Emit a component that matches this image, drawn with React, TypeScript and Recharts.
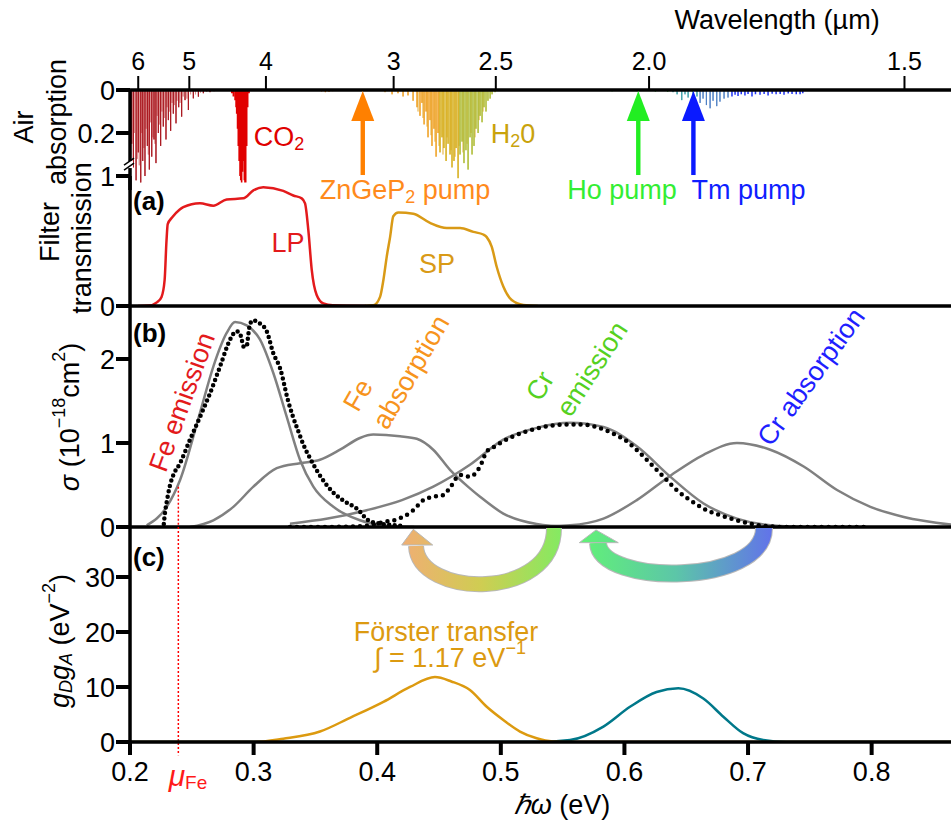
import React from 'react';
import { ComposedChart, Line, XAxis, YAxis, ReferenceDot, ReferenceLine } from 'recharts';

const W = 951;
const H = 823;
const FONT = '"Liberation Sans", Arial, Helvetica, sans-serif';
const E_MIN = 0.2;
const E_MAX = 0.8642;
const HC = 1.23984; // eV * um
const THIN = 0.01; // axis box size (must be > 0 for the axis to render)

// ---------- tick labels ----------
const WL_MAJOR = [6, 5, 4, 3, 2.5, 2.0, 1.5];
const WL_MAJOR_LABELS = ['6', '5', '4', '3', '2.5', '2.0', '1.5'];
const WL_MINOR = [4.5, 3.5];
const WL_ALL = [6, 5, 4.5, 4, 3.5, 3, 2.5, 2.0, 1.5];
const EV_TICKS = [0.2, 0.3, 0.4, 0.5, 0.6, 0.7, 0.8];
const EV_INNER_TICKS = [0.3, 0.4, 0.5, 0.6, 0.7, 0.8];
const AIR_TICKS = [0, 0.2];
const AIR_MINOR = [0.1, 0.3];
const FILT_TICKS = [0, 1];
const FILT_MINOR = [0.2, 0.4, 0.6, 0.8];
const SIG_TICKS = [0, 1, 2];
const SIG_MINOR = [0.5, 1.5];
const G_TICKS = [0, 10, 20, 30];

// photon-energy span shown on every panel
const SPAN = [{ x: 0.2, y: 0 }, { x: 0.8642, y: 0 }];

// ---------- air absorption lines [photon energy (eV), absorption] ----------
const AIR_MIR_DARK = [[0.2014,0.25],[0.2027,0.36],[0.2049,0.42],[0.2067,0.29],[0.2087,0.43],[0.2103,0.33],[0.2121,0.40],[0.2140,0.26],[0.2156,0.37],[0.2176,0.31],[0.2194,0.23],[0.2210,0.34],[0.2229,0.20],[0.2248,0.26],[0.2269,0.17],[0.2291,0.23],[0.2310,0.14],[0.2329,0.19],[0.2350,0.11],[0.2372,0.155],[0.2394,0.08],[0.2418,0.124],[0.2445,0.047],[0.2472,0.093],[0.2512,0.039],[0.2553,0.031],[0.2593,0.015],[0.2647,0.01]];
const AIR_MIR_LIGHT = [[0.2005,0.30],[0.2035,0.20],[0.2058,0.32],[0.2075,0.35],[0.2095,0.20],[0.2112,0.27],[0.2130,0.18],[0.2148,0.30],[0.2166,0.15],[0.2185,0.22],[0.2202,0.25],[0.2220,0.12],[0.2238,0.16],[0.2258,0.10],[0.2280,0.13],[0.2300,0.08],[0.2320,0.10],[0.2340,0.06],[0.2360,0.07],[0.2380,0.05],[0.2405,0.06],[0.2430,0.03],[0.2460,0.04],[0.2490,0.02],[0.2530,0.02],[0.2570,0.012],[0.2620,0.008],[0.2680,0.006],[0.2750,0.004]];
const AIR_CO2 = [[0.2823,0.015],[0.2836,0.03],[0.2850,0.047],[0.2858,0.08],[0.2863,0.11],[0.2870,0.18],[0.2876,0.26],[0.2883,0.33],[0.2890,0.40],[0.2896,0.42],[0.2903,0.43],[0.2910,0.38],[0.2917,0.33],[0.2925,0.42],[0.2930,0.43],[0.2936,0.43],[0.2944,0.26],[0.2952,0.08],[0.2963,0.015]];
const AIR_ZGP = [[0.355,0.006],[0.358,0.01],[0.361,0.008],[0.364,0.005]];
const AIR_H2O_ORANGE = [[0.4063,0.01],[0.4120,0.02],[0.4168,0.015],[0.4209,0.03],[0.4249,0.025],[0.4290,0.05],[0.4322,0.08],[0.4346,0.12],[0.4362,0.06],[0.4379,0.16],[0.4395,0.10],[0.4411,0.22],[0.4427,0.14],[0.4443,0.26],[0.4459,0.18],[0.4476,0.31],[0.4492,0.20]];
const AIR_H2O_GOLD = [[0.4508,0.29],[0.4524,0.22],[0.4540,0.27],[0.4557,0.33],[0.4573,0.25],[0.4589,0.30],[0.4605,0.36],[0.4621,0.33],[0.4638,0.27],[0.4654,0.41]];
const AIR_H2O_OLIVE = [[0.4670,0.30],[0.4686,0.24],[0.4702,0.34],[0.4718,0.28],[0.4735,0.37],[0.4751,0.22],[0.4767,0.30],[0.4783,0.26],[0.4799,0.18],[0.4816,0.20],[0.4832,0.12],[0.4848,0.15],[0.4864,0.08],[0.4880,0.10],[0.4896,0.05],[0.4913,0.04],[0.4929,0.02],[0.4953,0.01]];
const AIR_H2O_LIGHT = [[0.4330,0.10],[0.4370,0.13],[0.4403,0.17],[0.4435,0.21],[0.4467,0.24],[0.4500,0.26],[0.4532,0.30],[0.4565,0.22],[0.4597,0.28],[0.4630,0.31],[0.4662,0.26],[0.4694,0.29],[0.4727,0.25],[0.4759,0.20],[0.4791,0.22],[0.4824,0.14],[0.4856,0.10]];
const AIR_GREEN = [[0.5150,0.004],[0.5400,0.005],[0.5650,0.004],[0.5900,0.006],[0.6100,0.005],[0.6250,0.007],[0.6350,0.008]];
const AIR_TEAL = [[0.6393,0.01],[0.6426,0.02],[0.6464,0.047],[0.6490,0.02],[0.6515,0.035],[0.6555,0.05],[0.6587,0.03]];
const AIR_STEEL = [[0.6612,0.06],[0.6636,0.04],[0.6663,0.07],[0.6693,0.085],[0.6717,0.05],[0.6747,0.075],[0.6773,0.054],[0.6806,0.04],[0.6838,0.035]];
const AIR_BLUE = [[0.6870,0.03],[0.6895,0.022],[0.6919,0.028],[0.6945,0.02],[0.6975,0.025],[0.7000,0.018],[0.7032,0.03],[0.7060,0.02],[0.7097,0.022],[0.7130,0.018],[0.7162,0.025],[0.7195,0.017],[0.7227,0.02],[0.7260,0.018],[0.7291,0.022],[0.7325,0.016],[0.7356,0.018],[0.7390,0.02],[0.7421,0.02],[0.7443,0.015]];

// ---------- (a) filter transmission ----------
const LP_E = [0.2065,0.215,0.222,0.2255,0.228,0.2295,0.2305,0.234,0.24,0.2431,0.2566,0.2674,0.2782,0.2917,0.2998,0.3078,0.324,0.3321,0.3389,0.3416,0.3443,0.347,0.351,0.3564,0.364,0.391];
const LP_T = [0,0.003,0.03,0.07,0.2,0.5,0.63,0.68,0.74,0.76,0.79,0.772,0.82,0.828,0.89,0.913,0.885,0.85,0.828,0.79,0.58,0.28,0.085,0.02,0.005,0];
const SP_E = [0.39,0.3969,0.4023,0.405,0.4077,0.4104,0.413,0.4171,0.4292,0.4427,0.4562,0.467,0.4778,0.4858,0.4886,0.4926,0.4967,0.502,0.5088,0.5182,0.53];
const SP_T = [0,0.005,0.07,0.2,0.38,0.53,0.69,0.72,0.71,0.64,0.6,0.6,0.57,0.55,0.53,0.456,0.3,0.15,0.046,0.008,0];

// ---------- (b) cross sections (1e-18 cm^2) ----------
const FE_EMI_FIT_E = [0.2135,0.2297,0.2405,0.2566,0.2674,0.2782,0.285,0.2944,0.3052,0.316,0.3268,0.3375,0.3483,0.3645,0.386,0.4077,0.43];
const FE_EMI_FIT = [0.02,0.24,0.56,1.36,1.91,2.31,2.44,2.40,2.23,1.83,1.31,0.80,0.48,0.24,0.08,0.015,0];
const FE_ABS_FIT_E = [0.2485,0.2674,0.2836,0.2998,0.3187,0.3375,0.3537,0.3699,0.386,0.3968,0.4184,0.432,0.4453,0.4589,0.475,0.4832,0.502,0.529,0.556];
const FE_ABS_FIT = [0,0.08,0.24,0.48,0.70,0.76,0.80,0.92,1.06,1.10,1.08,1.05,0.92,0.68,0.46,0.36,0.16,0.035,0];
const CR_EMI_FIT_E = [0.3294,0.36,0.3915,0.42,0.4454,0.475,0.502,0.529,0.556,0.583,0.61,0.637,0.664,0.691,0.718,0.745];
const CR_EMI_FIT = [0.04,0.1,0.2,0.32,0.48,0.74,1.04,1.18,1.24,1.19,0.96,0.60,0.28,0.10,0.02,0];
const CR_ABS_FIT_E = [0.52,0.556,0.583,0.61,0.638,0.664,0.691,0.718,0.745,0.772,0.799,0.826,0.8642];
const CR_ABS_FIT = [0,0.02,0.1,0.32,0.62,0.86,1.0,0.92,0.72,0.44,0.24,0.12,0.03];
const FE_EMI_MEAS_E = [0.2269,0.2283,0.2297,0.2324,0.2351,0.2405,0.2485,0.2566,0.2647,0.2728,0.2809,0.2836,0.2863,0.2890,0.2904,0.2917,0.2944,0.2957,0.2971,0.2998,0.3052,0.3106,0.3159,0.3214,0.3281,0.3319,0.3359,0.3400,0.3456,0.3551,0.3645,0.3740,0.3834,0.3928,0.4023,0.4144,0.4225];
const FE_EMI_MEAS = [-0.03,0.17,0.3,0.5,0.62,0.76,1.04,1.31,1.59,1.91,2.23,2.30,2.33,2.30,2.23,2.15,2.15,2.29,2.42,2.46,2.42,2.33,2.07,1.89,1.49,1.31,1.15,0.99,0.82,0.58,0.41,0.30,0.22,0.08,0.04,0.02,0.01];
const CR_EMI_MEAS_E = [0.3294,0.3537,0.378,0.3942,0.4049,0.4158,0.4292,0.4373,0.4454,0.4535,0.4589,0.467,0.4751,0.4832,0.4886,0.4953,0.502,0.5101,0.5209,0.5344,0.5506,0.5641,0.5776,0.591,0.6019,0.6126,0.6234,0.6315,0.6423,0.6531,0.6638,0.6773,0.6909,0.7071,0.7313,0.7987];
const CR_EMI_MEAS = [0,0,0.005,0.02,0.06,0.09,0.2,0.32,0.36,0.38,0.47,0.62,0.6,0.72,0.9,0.96,1.02,1.08,1.14,1.19,1.22,1.22,1.19,1.11,1.02,0.88,0.72,0.6,0.44,0.32,0.22,0.14,0.08,0.024,0,0];

// ---------- (c) g_D g_A (eV^-2) ----------
const FORSTER_FE_E = [0.2,0.3003,0.324,0.3537,0.378,0.405,0.4265,0.4467,0.46,0.475,0.4886,0.502,0.5155,0.529,0.542,0.56,0.8642];
const FORSTER_FE = [0,0,0.6,1.9,4.4,7.3,10.0,11.8,11.0,9.45,6.4,4.0,1.9,0.67,0.1,0,0];
const FORSTER_CR_E = [0.2,0.529,0.556,0.583,0.6045,0.626,0.6436,0.6638,0.68,0.696,0.7123,0.731,0.8642];
const FORSTER_CR = [0,0,0.36,2.8,6.4,9.1,9.75,7.9,4.6,1.6,0.36,0,0];

const MU_FE = 0.2391;

// ---------- helpers ----------
const spikes = (lines: number[][]) => lines.flatMap(([x, y]) => [{ x, y: 0 }, { x, y }, { x, y: 0 }]);
const pts = (xs: number[], ys: number[]) => xs.map((x, i) => ({ x, y: ys[i] }));
const wlPos = (l: number) => HC / l;
const wlFmt = (v: number) => {
  let best = 0;
  WL_MAJOR.forEach((l, i) => {
    if (Math.abs(wlPos(l) - v) < Math.abs(wlPos(WL_MAJOR[best]) - v)) best = i;
  });
  return WL_MAJOR_LABELS[best];
};

const BLACK = '#000';
const RED = '#e31a1c';
const GOLD = '#d99a16';
const GRAY = '#808080';

type NoteOpts = { fill?: string; size?: number; rotate?: number; anchor?: string; weight?: any; italic?: boolean };
const note = (content: React.ReactNode, o: NoteOpts = {}) => (p: any) => (
  <text
    transform={`translate(${p.cx},${p.cy}) rotate(${o.rotate ?? 0})`}
    x={0}
    y={0}
    textAnchor={(o.anchor ?? 'middle') as any}
    dominantBaseline="central"
    fill={o.fill ?? BLACK}
    fontSize={o.size ?? 27}
    fontWeight={o.weight ?? 'normal'}
    fontFamily={FONT}
    fontStyle={o.italic ? 'italic' : 'normal'}
  >
    {content}
  </text>
);

const pumpArrow = (color: string) => (p: any) => (
  <g transform={`translate(${p.cx},${p.cy})`}>
    <rect x={-2.2} y={26} width={4.4} height={59} fill={color} />
    <polygon points="0,1 -11.5,31 11.5,31" fill={color} />
  </g>
);

const bentArrow = (id: string, stops: [number, string][], d: string, head: string, width: number, x1: number, x2: number) => (p: any) => (
  <g transform={`translate(${p.cx},${p.cy})`}>
    <defs>
      <linearGradient id={id} gradientUnits="userSpaceOnUse" x1={x1} y1={0} x2={x2} y2={0}>
        {stops.map(([o, c], i) => <stop key={i} offset={o} stopColor={c} />)}
      </linearGradient>
    </defs>
    <path d={d} fill="none" stroke="#b8b8b8" strokeWidth={width + 2} />
    <path d={d} fill="none" stroke={`url(#${id})`} strokeWidth={width} />
    <polygon points={head} fill={`url(#${id})`} stroke="#b8b8b8" strokeWidth={1} />
  </g>
);

const breakMark = (p: any) => (
  <g transform={`translate(${p.cx},${p.cy})`}>
    <rect x={-3} y={-4} width={6} height={7} fill="#fff" />
    <line x1={-6} y1={0} x2={4} y2={-7} stroke={BLACK} strokeWidth={1.5} />
    <line x1={-6} y1={5} x2={4} y2={-2} stroke={BLACK} strokeWidth={1.5} />
  </g>
);

const AXIS_LINE = { stroke: BLACK, strokeWidth: 3.5 };
const MAJOR_TICK = { stroke: BLACK, strokeWidth: 4 };
const MINOR_TICK = { stroke: BLACK, strokeWidth: 2 };
const TICK_TEXT = { fontSize: 27, fill: BLACK, fontFamily: FONT };

const dataX = () => <XAxis xAxisId="e" dataKey="x" type="number" domain={[E_MIN, E_MAX]} hide height={THIN} />;
const wlInner = () => (
  <XAxis xAxisId="wlIn" dataKey="x" type="number" orientation="bottom" mirror domain={[E_MIN, E_MAX]} allowDataOverflow
    ticks={WL_ALL.map(wlPos)} interval={0} height={THIN} tickSize={13} tick={false}
    tickLine={MINOR_TICK} axisLine={AXIS_LINE} />
);
const evInnerTop = () => (
  <XAxis xAxisId="evTop" dataKey="x" type="number" orientation="top" mirror domain={[E_MIN, E_MAX]} allowDataOverflow
    ticks={EV_INNER_TICKS} interval={0} height={THIN} tickSize={12} tick={false}
    tickLine={MAJOR_TICK} axisLine={false} />
);
const yAxes = (id: string, domain: number[], major: number[], minor: number[], reversed = false) => {
  const out = [
    <YAxis key={id} yAxisId={id} dataKey="y" type="number" domain={domain} reversed={reversed} allowDataOverflow
      ticks={major} interval={0} width={THIN} tickSize={14} tickMargin={1} tick={TICK_TEXT}
      tickLine={MAJOR_TICK} axisLine={AXIS_LINE} />,
  ];
  if (minor.length) {
    out.push(
      <YAxis key={id + 'm'} yAxisId={id + 'm'} dataKey="y" type="number" domain={domain} reversed={reversed} allowDataOverflow
        ticks={minor} interval={0} width={THIN} tickSize={14} tick={false}
        tickLine={MINOR_TICK} axisLine={false} />
    );
  }
  return out;
};

const AIR_SERIES = [
  { d: AIR_MIR_LIGHT, c: '#dc9090', w: 1 },
  { d: AIR_MIR_DARK, c: '#a8141c', w: 1 },
  { d: AIR_CO2, c: '#e00000', w: 1.6 },
  { d: AIR_ZGP, c: '#ff8000', w: 1 },
  { d: AIR_H2O_LIGHT, c: '#ecc878', w: 1 },
  { d: AIR_H2O_ORANGE, c: '#ee9c1a', w: 1 },
  { d: AIR_H2O_GOLD, c: '#d4aa10', w: 1 },
  { d: AIR_H2O_OLIVE, c: '#aab82a', w: 1 },
  { d: AIR_GREEN, c: '#44dd44', w: 1 },
  { d: AIR_TEAL, c: '#3a9fa8', w: 1 },
  { d: AIR_STEEL, c: '#4d7fc4', w: 1 },
  { d: AIR_BLUE, c: '#1f33f2', w: 1.5 },
];

const layer: React.CSSProperties = { position: 'absolute', left: 0, top: 0 };

export default function App() {
  return (
    <div style={{ position: 'absolute', left: 0, top: 0, width: W, height: H, background: '#fff', fontFamily: FONT, overflow: 'hidden' }}>
      {/* Air absorption */}
      <div style={layer}>
        <ComposedChart width={W} height={H} data={SPAN} margin={{ top: 90, right: 0, bottom: H - 190, left: 130 }}>
          {dataX()}
          {AIR_SERIES.map((s, i) => (
            <Line key={i} xAxisId="e" yAxisId="air" data={spikes(s.d)} dataKey="y" type="linear"
              stroke={s.c} strokeWidth={s.w} dot={false} isAnimationActive={false} />
          ))}
          <XAxis xAxisId="wlTop" dataKey="x" type="number" orientation="top" domain={[E_MIN, E_MAX]} allowDataOverflow
            ticks={WL_MAJOR.map(wlPos)} interval={0} height={THIN} tickSize={14} tickMargin={6}
            tick={{ fontSize: 25, fill: BLACK, fontFamily: FONT }} tickFormatter={wlFmt}
            tickLine={MINOR_TICK} axisLine={AXIS_LINE} />
          <XAxis xAxisId="wlTopMinor" dataKey="x" type="number" orientation="top" domain={[E_MIN, E_MAX]} allowDataOverflow
            ticks={WL_MINOR.map(wlPos)} interval={0} height={THIN} tickSize={8} tick={false}
            tickLine={MINOR_TICK} axisLine={false} />
          {yAxes('air', [0, 0.465], AIR_TICKS, AIR_MINOR, true)}
          <ReferenceDot xAxisId="e" yAxisId="air" x={E_MIN} y={0.349} r={1} ifOverflow="visible" shape={breakMark} />
          <ReferenceDot xAxisId="e" yAxisId="air" x={0.3883} y={0} r={1} ifOverflow="visible" shape={pumpArrow('#ff8000')} />
          <ReferenceDot xAxisId="e" yAxisId="air" x={0.6112} y={0} r={1} ifOverflow="visible" shape={pumpArrow('#22ee22')} />
          <ReferenceDot xAxisId="e" yAxisId="air" x={0.6558} y={0} r={1} ifOverflow="visible" shape={pumpArrow('#0a1aff')} />
          <ReferenceDot xAxisId="e" yAxisId="air" x={0.3206} y={0.2186} r={1} ifOverflow="visible"
            shape={note(<>CO<tspan dy={7} fontSize={18}>2</tspan></>, { fill: '#e00000' })} />
          <ReferenceDot xAxisId="e" yAxisId="air" x={0.5099} y={0.2046} r={1} ifOverflow="visible"
            shape={note(<>H<tspan dy={7} fontSize={18}>2</tspan><tspan dy={-7}>0</tspan></>, { fill: '#c9a30c' })} />
          <ReferenceDot xAxisId="e" yAxisId="air" x={0.7235} y={-0.3255} r={1} ifOverflow="visible"
            shape={note('Wavelength (\u00b5m)')} />
          <ReferenceDot xAxisId="e" yAxisId="air" x={0.11424} y={0.172} r={1} ifOverflow="visible"
            shape={note('Air', { rotate: -90 })} />
          <ReferenceDot xAxisId="e" yAxisId="air" x={0.1409} y={0.1488} r={1} ifOverflow="visible"
            shape={note('absorption', { rotate: -90 })} />
        </ComposedChart>
      </div>

      {/* (a) filter transmission */}
      <div style={layer}>
        <ComposedChart width={W} height={H} data={SPAN} margin={{ top: 176, right: 0, bottom: H - 306, left: 130 }}>
          {dataX()}
          {wlInner()}
          {yAxes('f', [0, 1], FILT_TICKS, FILT_MINOR)}
          <Line xAxisId="e" yAxisId="f" data={pts(LP_E, LP_T)} dataKey="y" type="monotone" stroke={RED}
            strokeWidth={2.5} dot={false} isAnimationActive={false} />
          <Line xAxisId="e" yAxisId="f" data={pts(SP_E, SP_T)} dataKey="y" type="monotone" stroke={GOLD}
            strokeWidth={2.5} dot={false} isAnimationActive={false} />
          <ReferenceDot xAxisId="e" yAxisId="f" x={0.4225} y={0.892} r={1} ifOverflow="visible"
            shape={note(<>ZnGeP<tspan dy={7} fontSize={18}>2</tspan><tspan dy={-7}> pump</tspan></>, { fill: '#ff8a1c' })} />
          <ReferenceDot xAxisId="e" yAxisId="f" x={0.598} y={0.892} r={1} ifOverflow="visible"
            shape={note('Ho pump', { fill: '#33ee33' })} />
          <ReferenceDot xAxisId="e" yAxisId="f" x={0.7004} y={0.892} r={1} ifOverflow="visible"
            shape={note('Tm pump', { fill: '#0f1fff' })} />
          <ReferenceDot xAxisId="e" yAxisId="f" x={0.2024} y={0.808} r={1} ifOverflow="visible"
            shape={note('(a)', { anchor: 'start', weight: 'bold', size: 26 })} />
          <ReferenceDot xAxisId="e" yAxisId="f" x={0.3278} y={0.485} r={1} ifOverflow="visible"
            shape={note('LP', { fill: RED })} />
          <ReferenceDot xAxisId="e" yAxisId="f" x={0.4484} y={0.323} r={1} ifOverflow="visible"
            shape={note('SP', { fill: GOLD })} />
          <ReferenceDot xAxisId="e" yAxisId="f" x={0.13528} y={0.569} r={1} ifOverflow="visible"
            shape={note('Filter', { rotate: -90 })} />
          <ReferenceDot xAxisId="e" yAxisId="f" x={0.16117} y={0.523} r={1} ifOverflow="visible"
            shape={note('transmission', { rotate: -90 })} />
        </ComposedChart>
      </div>

      {/* (b) cross sections */}
      <div style={layer}>
        <ComposedChart width={W} height={H} data={SPAN} margin={{ top: 306, right: 0, bottom: H - 527, left: 130 }}>
          {dataX()}
          {evInnerTop()}
          {wlInner()}
          {yAxes('s', [0, 2.631], SIG_TICKS, SIG_MINOR)}
          <Line xAxisId="e" yAxisId="s" data={pts(FE_EMI_FIT_E, FE_EMI_FIT)} dataKey="y" type="monotone" stroke={GRAY}
            strokeWidth={2.5} dot={false} isAnimationActive={false} />
          <Line xAxisId="e" yAxisId="s" data={pts(FE_ABS_FIT_E, FE_ABS_FIT)} dataKey="y" type="monotone" stroke={GRAY}
            strokeWidth={2.5} dot={false} isAnimationActive={false} />
          <Line xAxisId="e" yAxisId="s" data={pts(CR_EMI_FIT_E, CR_EMI_FIT)} dataKey="y" type="monotone" stroke={GRAY}
            strokeWidth={2.5} dot={false} isAnimationActive={false} />
          <Line xAxisId="e" yAxisId="s" data={pts(CR_ABS_FIT_E, CR_ABS_FIT)} dataKey="y" type="monotone" stroke={GRAY}
            strokeWidth={2.5} dot={false} isAnimationActive={false} />
          <Line xAxisId="e" yAxisId="s" data={pts(FE_EMI_MEAS_E, FE_EMI_MEAS)} dataKey="y" type="monotone" stroke={BLACK}
            strokeWidth={4.5} strokeDasharray="0 5.5" strokeLinecap="round" dot={false} isAnimationActive={false} />
          <Line xAxisId="e" yAxisId="s" data={pts(CR_EMI_MEAS_E, CR_EMI_MEAS)} dataKey="y" type="monotone" stroke={BLACK}
            strokeWidth={4.5} strokeDasharray="0 7" strokeLinecap="round" dot={false} isAnimationActive={false} />
          <ReferenceLine xAxisId="e" yAxisId="s" segment={[{ x: MU_FE, y: 0.48 }, { x: MU_FE, y: 0 }]} ifOverflow="visible"
            stroke="#ff0000" strokeWidth={1.5} strokeDasharray="2 2" />
          <ReferenceDot xAxisId="e" yAxisId="s" x={0.2024} y={2.31} r={1} ifOverflow="visible"
            shape={note('(b)', { anchor: 'start', weight: 'bold', size: 26 })} />
          <ReferenceDot xAxisId="e" yAxisId="s" x={0.2421} y={1.488} r={1} ifOverflow="visible"
            shape={note('Fe emission', { fill: RED, rotate: -70 })} />
          <ReferenceDot xAxisId="e" yAxisId="s" x={0.3845} y={1.571} r={1} ifOverflow="visible"
            shape={note('Fe', { fill: '#f7941d', rotate: -60 })} />
          <ReferenceDot xAxisId="e" yAxisId="s" x={0.4273} y={1.845} r={1} ifOverflow="visible"
            shape={note('absorption', { fill: '#f7941d', rotate: -60 })} />
          <ReferenceDot xAxisId="e" yAxisId="s" x={0.5317} y={1.679} r={1} ifOverflow="visible"
            shape={note('Cr', { fill: '#56d11f', rotate: -60 })} />
          <ReferenceDot xAxisId="e" yAxisId="s" x={0.5738} y={1.881} r={1} ifOverflow="visible"
            shape={note('emission', { fill: '#56d11f', rotate: -57 })} />
          <ReferenceDot xAxisId="e" yAxisId="s" x={0.751} y={1.786} r={1} ifOverflow="visible"
            shape={note('Cr absorption', { fill: '#1f1fff', rotate: -54 })} />
          <ReferenceDot xAxisId="e" yAxisId="s" x={0.1515} y={1.31} r={1} ifOverflow="visible"
            shape={note(<><tspan fontStyle="italic">{'\u03c3'}</tspan> (10<tspan dy={-11} fontSize={18}>{'\u221218'}</tspan><tspan dy={11}>cm</tspan><tspan dy={-11} fontSize={18}>2</tspan><tspan dy={11}>)</tspan></>, { rotate: -90 })} />
        </ComposedChart>
      </div>

      {/* (c) g_D g_A */}
      <div style={layer}>
        <ComposedChart width={W} height={H} data={SPAN} margin={{ top: 527, right: 0, bottom: H - 742, left: 130 }}>
          {dataX()}
          {evInnerTop()}
          {wlInner()}
          <XAxis xAxisId="evBot" dataKey="x" type="number" orientation="bottom" domain={[E_MIN, E_MAX]} allowDataOverflow
            ticks={EV_TICKS} interval={0} height={THIN} tickSize={13} tickMargin={7} tick={TICK_TEXT}
            tickLine={MAJOR_TICK} axisLine={false} />
          {yAxes('g', [0, 39.09], G_TICKS, [])}
          <ReferenceLine xAxisId="e" yAxisId="g" segment={[{ x: MU_FE, y: 39.09 }, { x: MU_FE, y: -2.4 }]} ifOverflow="visible"
            stroke="#ff0000" strokeWidth={1.5} strokeDasharray="2 2" />
          <Line xAxisId="e" yAxisId="g" data={pts(FORSTER_CR_E, FORSTER_CR)} dataKey="y" type="monotone" stroke="#00788a"
            strokeWidth={2.5} dot={false} isAnimationActive={false} />
          <Line xAxisId="e" yAxisId="g" data={pts(FORSTER_FE_E, FORSTER_FE)} dataKey="y" type="monotone" stroke="#dc9a10"
            strokeWidth={2.5} dot={false} isAnimationActive={false} />
          <ReferenceDot xAxisId="e" yAxisId="g" x={0.4292} y={38.67} r={1} ifOverflow="visible"
            shape={bentArrow('arrFe', [[0, '#f0ae74'], [0.5, '#cfcd52'], [1, '#84ea62']],
              'M 140.7 -1.3 C 140.7 72 4.7 68.7 2.7 16.7', '0,0 -11.6,15.7 19.4,15.7', 14, -12, 148)} />
          <ReferenceDot xAxisId="e" yAxisId="g" x={0.577} y={38.55} r={1} ifOverflow="visible"
            shape={bentArrow('arrCr', [[0, '#62f276'], [0.5, '#5cc6a8'], [1, '#6272ea']],
              'M 168 -2 C 168 56 4 56 2 13', '0,0 -16.7,12.7 22.3,12.7', 16, -17, 177)} />
          <ReferenceDot xAxisId="e" yAxisId="g" x={0.2024} y={33.64} r={1} ifOverflow="visible"
            shape={note('(c)', { anchor: 'start', weight: 'bold', size: 26 })} />
          <ReferenceDot xAxisId="e" yAxisId="g" x={0.4557} y={20.0} r={1} ifOverflow="visible"
            shape={note('F\u00f6rster transfer', { fill: '#dc9a10' })} />
          <ReferenceDot xAxisId="e" yAxisId="g" x={0.4589} y={15.27} r={1} ifOverflow="visible"
            shape={note(<>{'\u222b = 1.17 eV'}<tspan dy={-10} fontSize={18}>{'\u22121'}</tspan></>, { fill: '#dc9a10' })} />
          <ReferenceDot xAxisId="e" yAxisId="g" x={0.2469} y={-6.0} r={1} ifOverflow="visible"
            shape={note(<><tspan fontStyle="italic" fontSize={30}>{'\u03bc'}</tspan><tspan dy={7} fontSize={19}>Fe</tspan></>, { fill: '#ff1a1a' })} />
          <ReferenceDot xAxisId="e" yAxisId="g" x={0.5495} y={-11.45} r={1} ifOverflow="visible"
            shape={note(<><tspan fontStyle="italic">{'\u210f\u03c9'}</tspan> (eV)</>)} />
          <ReferenceDot xAxisId="e" yAxisId="g" x={0.1434} y={18.36} r={1} ifOverflow="visible"
            shape={note(<><tspan fontStyle="italic">g</tspan><tspan fontStyle="italic" dy={6} fontSize={18}>D</tspan><tspan fontStyle="italic" dy={-6}>g</tspan><tspan fontStyle="italic" dy={6} fontSize={18}>A</tspan><tspan dy={-6}> (eV</tspan><tspan dy={-11} fontSize={18}>{'\u22122'}</tspan><tspan dy={11}>)</tspan></>, { rotate: -90 })} />
        </ComposedChart>
      </div>
    </div>
  );
}
